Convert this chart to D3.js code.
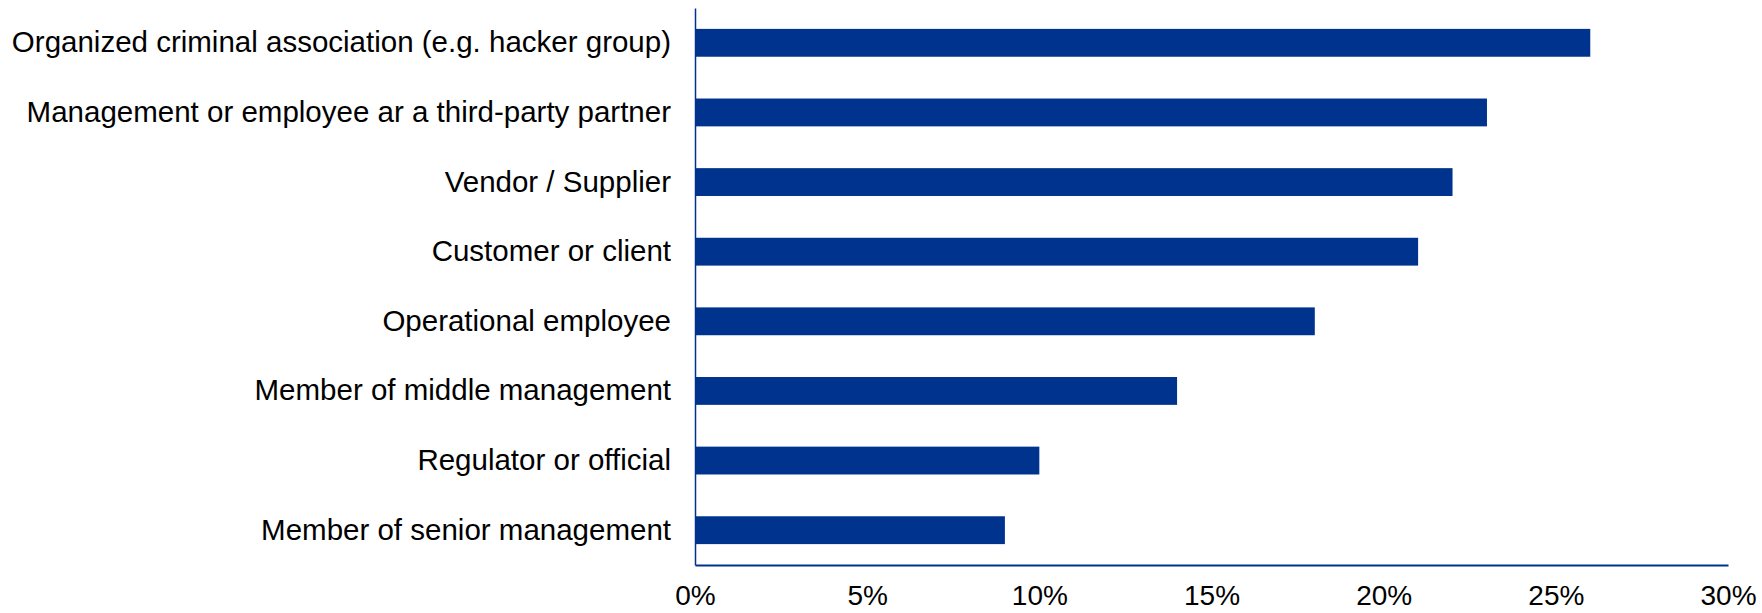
<!DOCTYPE html>
<html>
<head>
<meta charset="utf-8">
<script src="https://cdn.jsdelivr.net/npm/d3@7"></script>
<style>
  body { margin: 0; background: #fff; }
  svg text { font-family: "Liberation Sans", Arial, sans-serif; fill: #000; }
</style>
</head>
<body>
<svg id="drawing_region"></svg>
<script>
const categories = [
    'Organized criminal association (e.g. hacker group)',
    'Management or employee ar a third-party partner',
    'Vendor / Supplier',
    'Customer or client',
    'Operational employee',
    'Member of middle management',
    'Regulator or official',
    'Member of senior management'
];
const values = [26, 23, 22, 21, 18, 14, 10, 9];
const xTicks = [0, 5, 10, 15, 20, 25, 30];

const width = 1762, height = 613;
const margin = {top: 8, right: 34, bottom: 48, left: 695};
const blue = '#00338d';

const svg = d3.select('#drawing_region')
    .attr('width', width)
    .attr('height', height);

const chart = svg.append('g')
    .attr('transform', `translate(${margin.left}, ${margin.top})`);

const inner_width = width - margin.left - margin.right;
const inner_height = height - margin.top - margin.bottom;

const xscale = d3.scaleLinear()
    .domain([0, 30])
    .range([0, inner_width]);

const yscale = d3.scaleBand()
    .domain(categories)
    .range([0, inner_height])
    .paddingInner(0.6)
    .paddingOuter(0.3);

// bars
chart.selectAll('rect')
    .data(values)
    .join('rect')
    .attr('x', 0)
    .attr('y', (d, i) => yscale(categories[i]))
    .attr('width', d => xscale(d))
    .attr('height', yscale.bandwidth())
    .attr('fill', blue);

// x axis
const xaxis = d3.axisBottom(xscale)
    .tickValues(xTicks)
    .tickFormat(d => d + '%')
    .tickSize(0)
    .tickPadding(20);

const xg = chart.append('g')
    .attr('transform', `translate(0, ${inner_height})`)
    .call(xaxis);
xg.select('.domain').attr('stroke', blue).attr('stroke-width', 2);
xg.selectAll('text').attr('font-size', 28).style('font-family', '"Liberation Sans", Arial, sans-serif');

// y axis
const yaxis = d3.axisLeft(yscale)
    .tickSize(0)
    .tickPadding(24);

const yg = chart.append('g').call(yaxis);
yg.select('.domain').attr('stroke', blue).attr('stroke-width', 1.5);
yg.selectAll('text').attr('font-size', 29.5).style('font-family', '"Liberation Sans", Arial, sans-serif');
</script>
</body>
</html>
